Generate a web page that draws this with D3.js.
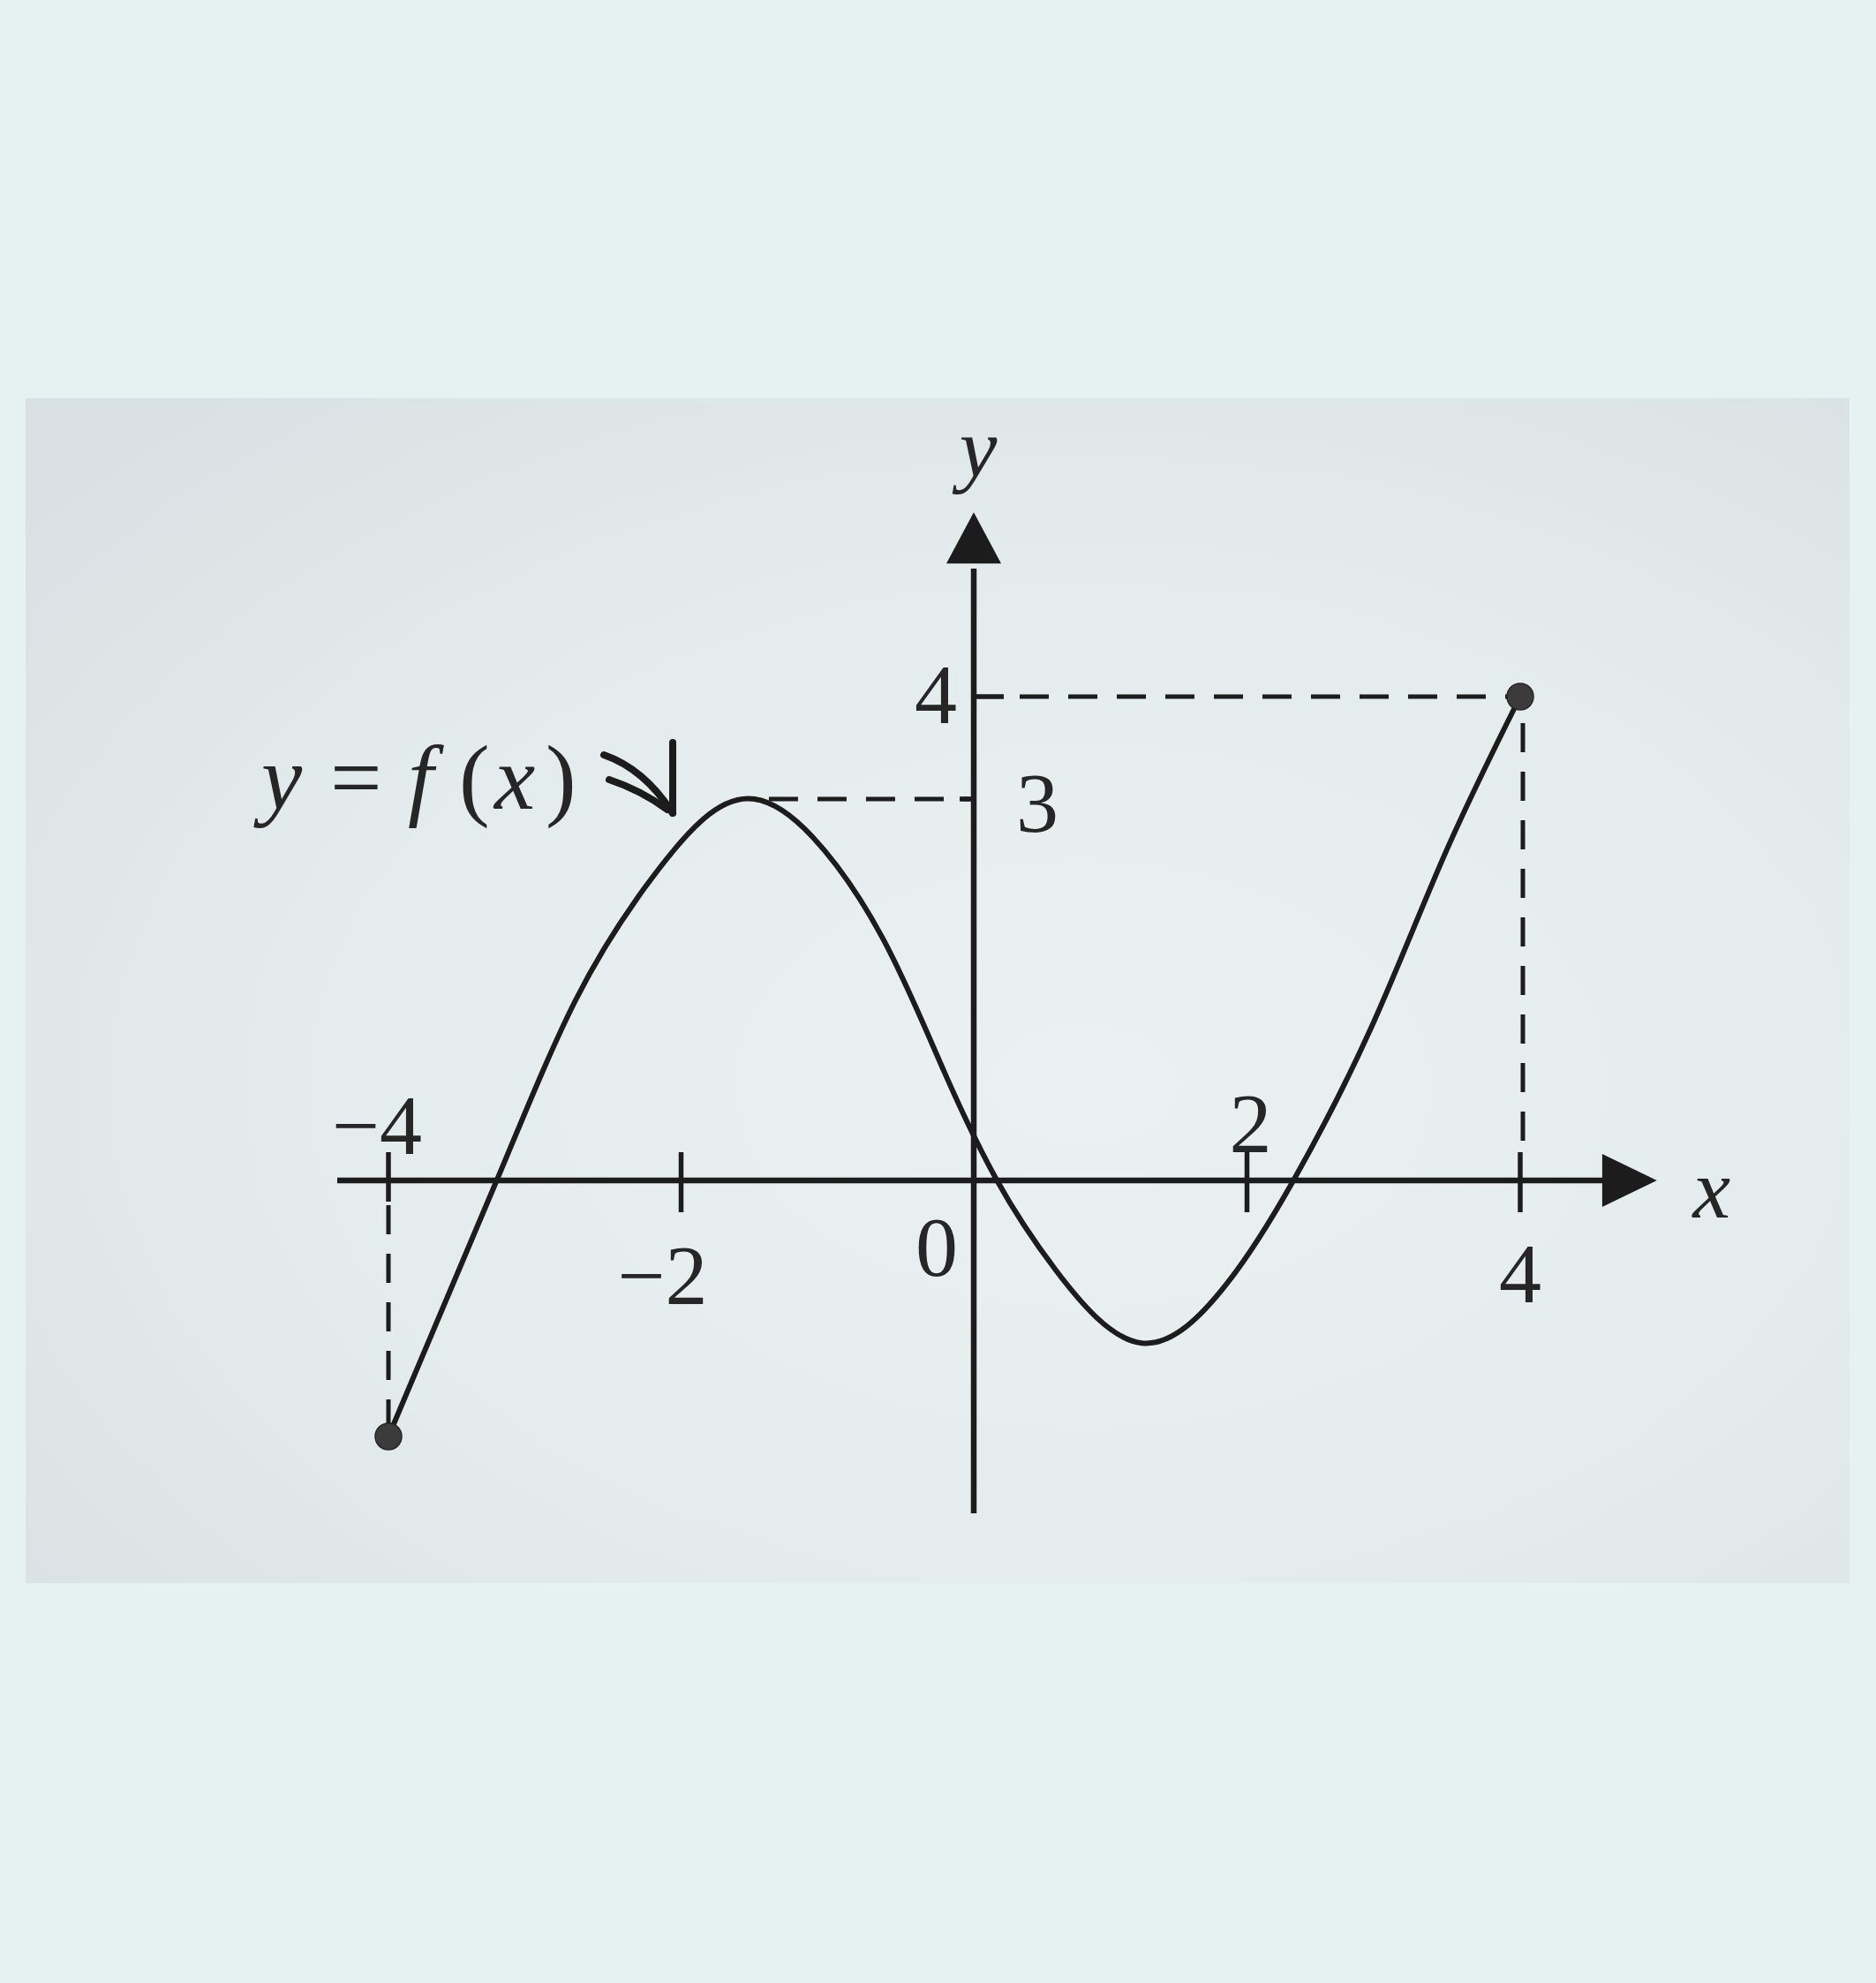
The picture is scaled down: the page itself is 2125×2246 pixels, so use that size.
<!DOCTYPE html>
<html>
<head>
<meta charset="utf-8">
<script src="https://cdn.jsdelivr.net/npm/d3@7"></script>
<style>
  html, body { margin: 0; padding: 0; background: #e6f2f2; }
  svg { display: block; }
</style>
</head>
<body>
<script>
// ---- data ----
const curveX = [-4, -3.26, -2.72, -2.25, -1.85, -1.5, -1.1, -0.62, -0.2, 0.17, 0.6, 1.23, 1.85, 2.34, 2.9, 3.45, 4];
const curveY = [-2, 0, 1.42, 2.3, 2.84, 3, 2.7, 1.9, 0.85, 0, -0.7, -1.27, -0.81, 0, 1.18, 2.57, 4];
const endX = [-4, 4];
const endY = [-2, 4];
const peakX = -1.4, peakY = 3;
const xTicks = [-4, -2, 2, 4];
const xTickLabels = ["\u22124", "\u22122", "2", "4"];
const yTicks = [3, 4];
const yTickLabels = ["3", "4"];
const originLabel = "0";
const fnLabel = ["y", "=", "f", "(", "x", ")"];

// ---- layout ----
const W = 2125, H = 2246;
const x = d3.scaleLinear().domain([-4, 0, 4]).range([440, 1103, 1722]);
const y = d3.scaleLinear().domain([-2, 0, 3, 4]).range([1627, 1337, 905, 789]);

const svg = d3.select("body").append("svg").attr("width", W).attr("height", H);
const defs = svg.append("defs");
const g = defs.append("radialGradient").attr("id", "paper").attr("cx", "58%").attr("cy", "58%").attr("r", "75%");
g.append("stop").attr("offset", "0%").attr("stop-color", "#ebf1f1");
g.append("stop").attr("offset", "60%").attr("stop-color", "#e4ebec");
g.append("stop").attr("offset", "100%").attr("stop-color", "#d9e1e4");

svg.append("rect").attr("width", W).attr("height", H).attr("fill", "#e6f2f2");
svg.append("rect").attr("x", 29).attr("y", 451).attr("width", 2066).attr("height", 1342).attr("fill", "url(#paper)");

const ink = "#1c1c1c";
const serif = "'Liberation Serif', 'Times New Roman', serif";
const x0 = x(0), y0 = y(0);

// ---- axes ----
svg.append("line").attr("x1", x(-4.35)).attr("x2", x(4.62)).attr("y1", y0).attr("y2", y0)
  .attr("stroke", ink).attr("stroke-width", 6.5);
svg.append("path")
  .attr("d", `M${x(4.6)},${y0 - 30} L${x(5.0)},${y0} L${x(4.6)},${y0 + 30} Z`)
  .attr("fill", ink);
svg.append("line").attr("x1", x0).attr("x2", x0).attr("y1", y(-2.6)).attr("y2", y(5.25))
  .attr("stroke", ink).attr("stroke-width", 6.5);
svg.append("path")
  .attr("d", `M${x0 - 31},${y(5.3)} L${x0},${y(5.8)} L${x0 + 31},${y(5.3)} Z`)
  .attr("fill", ink);

// x ticks
svg.selectAll(".xt").data(xTicks).enter().append("line")
  .attr("x1", d => x(d)).attr("x2", d => x(d))
  .attr("y1", d => y0 - 32).attr("y2", d => d === -4 ? y0 + 24 : y0 + 36)
  .attr("stroke", ink).attr("stroke-width", 5.5);
// y ticks
svg.append("line").attr("x1", x0).attr("x2", x0 + 34).attr("y1", y(4)).attr("y2", y(4))
  .attr("stroke", ink).attr("stroke-width", 5.5);
svg.append("line").attr("x1", x0 - 16).attr("x2", x0).attr("y1", y(3)).attr("y2", y(3))
  .attr("stroke", ink).attr("stroke-width", 5.5);

// ---- dashed guide lines ----
const dash = { "stroke": ink, "stroke-width": 5, "stroke-dasharray": "33,22", "fill": "none" };
function dashed(x1, y1, x2, y2) {
  const l = svg.append("line").attr("x1", x1).attr("y1", y1).attr("x2", x2).attr("y2", y2);
  Object.entries(dash).forEach(([k, v]) => l.attr(k, v));
}
dashed(x0 + 52, y(4), x(endX[1]) - 12, y(4));
dashed(x(peakX), y(peakY), x0 - 4, y(peakY));
dashed(x(endX[1]) + 3, y(endY[1]) + 30, x(endX[1]) + 3, y0 - 36);
dashed(x(endX[0]), y0 + 28, x(endX[0]), y(endY[0]) - 14);

// ---- curve ----
const pts = curveX.map((d, i) => [d, curveY[i]]);
svg.append("path")
  .attr("d", d3.line().x(d => x(d[0])).y(d => y(d[1])).curve(d3.curveNatural)(pts))
  .attr("fill", "none").attr("stroke", ink).attr("stroke-width", 6)
  .attr("stroke-linejoin", "round").attr("stroke-linecap", "round");

// endpoints
svg.selectAll(".end").data(endX).enter().append("circle")
  .attr("cx", d => x(d)).attr("cy", (d, i) => y(endY[i]))
  .attr("r", 15).attr("fill", "#3b3b3b").attr("stroke", "#262626").attr("stroke-width", 1.5);

// ---- labels ----
const txt = (t, px, py, opts = {}) => svg.append("text").text(t)
  .attr("x", px).attr("y", py)
  .attr("font-family", serif).attr("font-size", opts.size || 96)
  .attr("font-style", opts.italic ? "italic" : "normal")
  .attr("text-anchor", opts.anchor || "middle")
  .attr("fill", opts.fill || "#262626");

// x tick labels: -4 above, -2 below, 2 above, 4 below
const xLabelPos = [
  { dx: 38, dy: -30, anchor: "end" },
  { dx: 30, dy: 140, anchor: "end" },
  { dx: 4, dy: -32, anchor: "middle" },
  { dx: 0, dy: 138, anchor: "middle" }
];
xTicks.forEach((t, i) => {
  txt(xTickLabels[i], x(t) + xLabelPos[i].dx, y0 + xLabelPos[i].dy, { anchor: xLabelPos[i].anchor });
});
// y tick labels
txt(yTickLabels[1], x0 - 43, y(4) + 30);
txt(yTickLabels[0], x0 + 72, y(3) + 37);
// origin
txt(originLabel, x0 - 42, y0 + 108);
// axis names
txt("x", x(5.0) + 62, y0 + 42, { italic: true });
txt("y", x0 + 5, y(5.8) - 40, { italic: true });

// function label y = f(x)
const lab = svg.append("text").attr("y", 916)
  .attr("font-family", serif).attr("font-size", 104).attr("fill", "#262626");
const labX = [296, 374, 462, 520, 560, 618];
const labItalic = [true, false, true, false, true, false];
fnLabel.forEach((s, i) => {
  lab.append("tspan").attr("x", labX[i]).text(s)
    .attr("font-style", labItalic[i] ? "italic" : "normal");
});
// pointer arrow
const ax = 762, ay = 921;
svg.append("path")
  .attr("d", `M${ax - 78},${ay - 66} Q${ax - 32},${ay - 50} ${ax},${ay}`)
  .attr("fill", "none").attr("stroke", ink).attr("stroke-width", 8).attr("stroke-linecap", "round");
svg.append("path")
  .attr("d", `M${ax - 72},${ay - 38} Q${ax - 36},${ay - 26} ${ax - 6},${ay - 4}`)
  .attr("fill", "none").attr("stroke", ink).attr("stroke-width", 8).attr("stroke-linecap", "round");
svg.append("line").attr("x1", ax).attr("x2", ax).attr("y1", ay - 80).attr("y2", ay)
  .attr("stroke", ink).attr("stroke-width", 8).attr("stroke-linecap", "round");
</script>
</body>
</html>
